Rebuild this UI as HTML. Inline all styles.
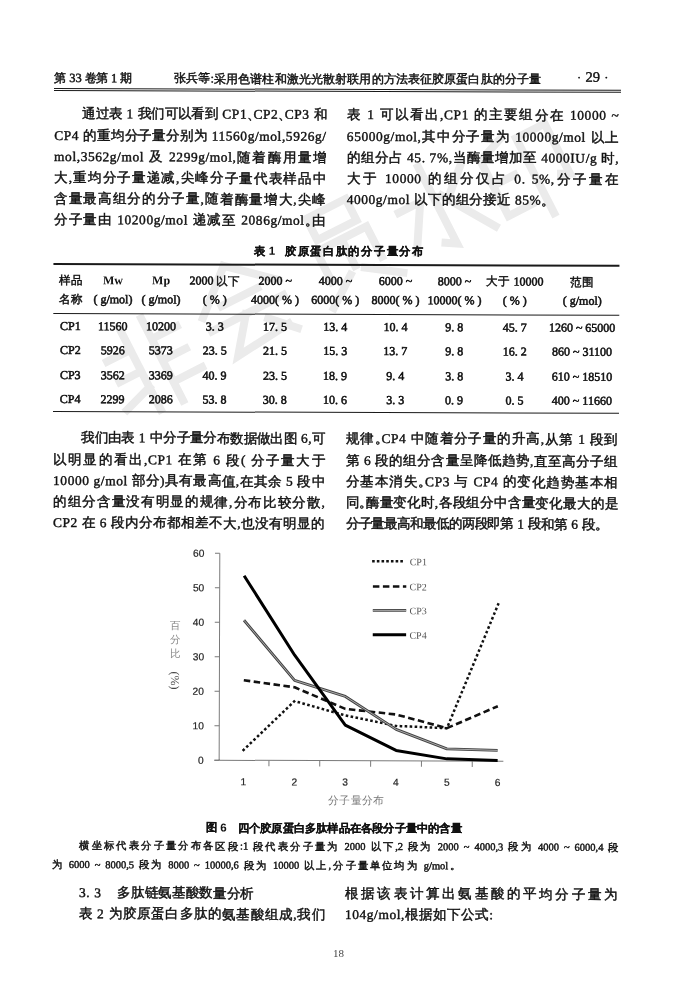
<!DOCTYPE html>
<html><head><meta charset="utf-8"><title>page</title><style>
html,body{margin:0;padding:0;background:#fff;width:677px;height:996px;overflow:hidden}
#all{position:absolute;left:0;top:0;width:677px;height:996px;filter:blur(0.35px)}
#pg{position:absolute;left:0;top:0;width:677px;height:996px;transform-origin:54px 88px;transform:rotate(0.18deg)}
#ch{position:absolute;left:0;top:0;width:677px;height:996px;transform-origin:360px 680px;transform:rotate(0.18deg)}
.b,.h,.tb,.n,.cap{position:absolute;white-space:nowrap;color:#111;text-align:justify;text-align-last:justify}
.l{text-align-last:left}
.b{font:13.4px/21px "Liberation Serif",serif;letter-spacing:0.6px}
.h{font:12.5px/16px "Liberation Serif",serif}
.tb{font:12px/16px "Liberation Serif",serif}
.n{font:10.5px/16px "Liberation Serif",serif}
.cap{font:bold 11.5px/16px "Liberation Sans",sans-serif}
c{font-family:"Liberation Sans",sans-serif;line-height:0;font-weight:normal;letter-spacing:var(--ls,1px);position:relative;top:1.3px;-webkit-text-stroke-width:1.3px}
.cap c{-webkit-text-stroke-width:2px}
html.cjk .cap c{-webkit-text-stroke-width:0.2px}
.b,.h,.tb,.n{-webkit-text-stroke-width:0.42px}
.tb{-webkit-text-stroke-width:0.55px}
.bm{-webkit-text-stroke-width:0}
html.cjk c{top:0;letter-spacing:var(--lsc,0px);font-family:"Liberation Serif",serif;-webkit-text-stroke-width:0.45px}
html.cjk .yt c,html.cjk .xt c{-webkit-text-stroke-width:0}
html.cjk .cap c{font-family:"Liberation Sans",sans-serif}
.b c{font-size:16.5px}
.h c{font-size:14.6px}
.tb c{font-size:14px}
.n c{font-size:12.6px}
.cap c{font-size:14px;font-weight:bold}
.bm{font-weight:bold}
c.p{font-size:9px!important;-webkit-text-stroke-width:0.8px}
html.cjk c.p{font-size:inherit!important;letter-spacing:-0.5em;-webkit-text-stroke-width:0.45px}
.rule{position:absolute;background:#1a1a1a}
.ch,.wm{position:absolute;left:0;top:0;display:block}
.ax{font:10.2px "Liberation Sans",sans-serif;fill:#222;stroke:#222;stroke-width:0.2px}
.lg{font:10px "Liberation Serif",serif;fill:#555}
.yt{position:absolute;font:10.5px/14px "Liberation Serif";color:#888;text-align:center;width:14px}
.yt c{font-size:13.5px;-webkit-text-stroke-width:0.3px;letter-spacing:0}
.ytp{position:absolute;font:12px "Liberation Serif";color:#444;transform:rotate(90deg);transform-origin:9px 7px;white-space:nowrap}
.xt{position:absolute;font:10.8px/14px "Liberation Serif";color:#777;width:56px;text-align:justify;text-align-last:justify;white-space:nowrap}
.xt c{font-size:13px;-webkit-text-stroke-width:0.3px}
#pn{position:absolute;left:333px;top:946.2px;font:11px/14px "Liberation Serif";color:#444}
html.cjk .b c{font-size:13.5px}
html.cjk .h c{font-size:12px}
html.cjk .tb c{font-size:11.5px}
html.cjk .n c{font-size:10.3px}
html.cjk .cap c{font-size:11.3px}
html.cjk .yt c{font-size:10.5px}
html.cjk .xt c{font-size:10.8px}
</style></head>
<body>
<script>(function(){var s=document.createElement('c');s.textContent='\u4e2d\u4e2d\u4e2d\u4e2d\u4e2d\u4e2d\u4e2d\u4e2d\u4e2d\u4e2d';s.style.cssText='position:absolute;visibility:hidden;font-size:100px;line-height:normal;white-space:nowrap';document.body.appendChild(s);var w=s.getBoundingClientRect().width;document.body.removeChild(s);if(w>900)document.documentElement.className+=' cjk';})();</script>
<div id="all">
<svg class="wm" width="677" height="996" viewBox="0 0 677 996"><g fill="none" stroke="#ebebeb" stroke-width="8" stroke-linecap="square"><path transform="translate(151 364) rotate(-27) translate(-50 -50)" d="M38 8V95M12 28H38M14 52H38M8 80L38 70M62 5V97M62 28H90M62 52H88M62 76H94"/><path transform="translate(244 306) rotate(-27) translate(-50 -50)" d="M50 5L8 42M50 5L92 42M30 40H70M10 58H90M48 58L22 92L82 86M66 72L88 94"/><path transform="translate(346 248) rotate(-27) translate(-50 -50)" d="M28 6H72V30H28ZM22 40H78V74M22 40V74M50 48V70M42 76L12 98M58 76L90 98"/><path transform="translate(439 208) rotate(-27) translate(-50 -50)" d="M50 4V90L40 84M12 36H36L10 80M88 22L62 46M58 40L92 92"/><path transform="translate(527 173) rotate(-27) translate(-50 -50)" d="M40 8L14 18V80H40M14 46H38M56 14H88V70L80 66M56 14V98"/></g></svg>
<div id="pg">
<div class="h" style="left:54.4px;top:69.6px;width:77.5px;--ls:0.10px;--lsc:-0.40px"><c>第</c> 33 <c>卷第</c> 1 <c>期</c></div>
<div class="h" style="left:174.0px;top:69.6px;width:367.0px"><c>张兵等</c>:<c>采用色谱柱和激光光散射联用的方法表征胶原蛋白肽的分子量</c></div>
<div class="h" style="left:577.0px;top:67.1px;width:31.5px">· <span style="font-size:14.5px">29</span> ·</div>
<div class="rule" style="left:54px;top:87.9px;width:566.5px;height:1.3px"></div>
<div class="rule" style="left:54px;top:90.1px;width:566.5px;height:1.2px"></div>
<div class="b" style="left:82.3px;top:103.4px;width:244.5px;--ls:0.24px;--lsc:-0.56px"><c>通过表</c> 1 <c>我们可以看到</c> CP1<c class="p">、</c>CP2<c class="p">、</c>CP3 <c>和</c></div>
<div class="b" style="left:54.3px;top:124.5px;width:272.5px;--ls:0.49px;--lsc:-0.18px">CP4 <c>的重均分子量分别为</c> 11560g/mol,5926g/</div>
<div class="b" style="left:54.3px;top:145.7px;width:272.5px">mol,3562g/mol <c>及</c> 2299g/mol,<c>随着酶用量增</c></div>
<div class="b" style="left:54.3px;top:166.8px;width:272.5px"><c>大</c>,<c>重均分子量递减</c>,<c>尖峰分子量代表样品中</c></div>
<div class="b" style="left:54.3px;top:188.0px;width:272.5px"><c>含量最高组分的分子量</c>,<c>随着酶量增大</c>,<c>尖峰</c></div>
<div class="b" style="left:54.3px;top:209.1px;width:272.5px"><c>分子量由</c> 10200g/mol <c>递减至</c> 2086g/mol<c class="p">。</c><c>由</c></div>
<div class="b" style="left:347.0px;top:103.4px;width:272.5px"><c>表</c> 1 <c>可以看出</c>,CP1 <c>的主要组分在</c> 10000 ~</div>
<div class="b" style="left:347.0px;top:124.5px;width:272.5px">65000g/mol,<c>其中分子量为</c> 10000g/mol <c>以上</c></div>
<div class="b" style="left:347.0px;top:145.7px;width:272.5px"><c>的组分占</c> 45. 7%,<c>当酶量增加至</c> 4000IU/g <c>时</c>,</div>
<div class="b" style="left:347.0px;top:166.8px;width:272.5px"><c>大于</c> 10000 <c>的组分仅占</c> 0. 5%,<c>分子量在</c></div>
<div class="b" style="left:347.0px;top:188.0px;width:201.0px;--ls:0.34px;--lsc:-0.23px">4000g/mol <c>以下的组分接近</c> 85%<c class="p">。</c></div>
<div class="cap l" style="left:255.0px;top:242.2px;width:30.0px"><c>表</c> 1</div>
<div class="cap" style="left:285.5px;top:242.2px;width:138.0px"><c>胶原蛋白肽的分子量分布</c></div>
<div class="rule" style="left:53.6px;top:263.0px;width:566.5px;height:1.7px"></div>
<div class="rule" style="left:53.6px;top:312.6px;width:566.5px;height:1.0px"></div>
<div class="rule" style="left:53.6px;top:410.7px;width:566.5px;height:1.5px"></div>
<div class="tb" style="left:31.2px;top:271.6px;width:80.0px;text-align:center;text-align-last:center"><c>样品</c></div>
<div class="tb" style="left:73.6px;top:271.6px;width:80.0px;text-align:center;text-align-last:center"><span class="bm">Mw</span></div>
<div class="tb" style="left:121.7px;top:271.6px;width:80.0px;text-align:center;text-align-last:center"><span class="bm">Mp</span></div>
<div class="tb" style="left:175.5px;top:271.6px;width:80.0px;text-align:center;text-align-last:center">2000 <c>以下</c></div>
<div class="tb" style="left:235.8px;top:271.6px;width:80.0px;text-align:center;text-align-last:center">2000 ~</div>
<div class="tb" style="left:296.0px;top:271.6px;width:80.0px;text-align:center;text-align-last:center">4000 ~</div>
<div class="tb" style="left:356.2px;top:271.6px;width:80.0px;text-align:center;text-align-last:center">6000 ~</div>
<div class="tb" style="left:415.1px;top:271.6px;width:80.0px;text-align:center;text-align-last:center">8000 ~</div>
<div class="tb" style="left:475.5px;top:271.6px;width:80.0px;text-align:center;text-align-last:center"><c>大于</c> 10000</div>
<div class="tb" style="left:542.9px;top:271.6px;width:80.0px;text-align:center;text-align-last:center"><c>范围</c></div>
<div class="tb" style="left:31.2px;top:291.4px;width:80.0px;text-align:center;text-align-last:center"><c>名称</c></div>
<div class="tb" style="left:73.6px;top:291.4px;width:80.0px;text-align:center;text-align-last:center">( g/mol)</div>
<div class="tb" style="left:121.7px;top:291.4px;width:80.0px;text-align:center;text-align-last:center">( g/mol)</div>
<div class="tb" style="left:175.5px;top:291.4px;width:80.0px;text-align:center;text-align-last:center">( % )</div>
<div class="tb" style="left:235.8px;top:291.4px;width:80.0px;text-align:center;text-align-last:center">4000( % )</div>
<div class="tb" style="left:296.0px;top:291.4px;width:80.0px;text-align:center;text-align-last:center">6000( % )</div>
<div class="tb" style="left:356.2px;top:291.4px;width:80.0px;text-align:center;text-align-last:center">8000( % )</div>
<div class="tb" style="left:415.1px;top:291.4px;width:80.0px;text-align:center;text-align-last:center">10000( % )</div>
<div class="tb" style="left:475.5px;top:291.4px;width:80.0px;text-align:center;text-align-last:center">( % )</div>
<div class="tb" style="left:542.9px;top:291.4px;width:80.0px;text-align:center;text-align-last:center">( g/mol)</div>
<div class="tb" style="left:31.2px;top:317.9px;width:80.0px;text-align:center;text-align-last:center">CP1</div>
<div class="tb" style="left:73.6px;top:317.9px;width:80.0px;text-align:center;text-align-last:center">11560</div>
<div class="tb" style="left:121.7px;top:317.9px;width:80.0px;text-align:center;text-align-last:center">10200</div>
<div class="tb" style="left:175.5px;top:317.9px;width:80.0px;text-align:center;text-align-last:center">3. 3</div>
<div class="tb" style="left:235.8px;top:317.9px;width:80.0px;text-align:center;text-align-last:center">17. 5</div>
<div class="tb" style="left:296.0px;top:317.9px;width:80.0px;text-align:center;text-align-last:center">13. 4</div>
<div class="tb" style="left:356.2px;top:317.9px;width:80.0px;text-align:center;text-align-last:center">10. 4</div>
<div class="tb" style="left:415.1px;top:317.9px;width:80.0px;text-align:center;text-align-last:center">9. 8</div>
<div class="tb" style="left:475.5px;top:317.9px;width:80.0px;text-align:center;text-align-last:center">45. 7</div>
<div class="tb" style="left:542.9px;top:317.9px;width:80.0px;text-align:center;text-align-last:center">1260 ~ 65000</div>
<div class="tb" style="left:31.2px;top:342.4px;width:80.0px;text-align:center;text-align-last:center">CP2</div>
<div class="tb" style="left:73.6px;top:342.4px;width:80.0px;text-align:center;text-align-last:center">5926</div>
<div class="tb" style="left:121.7px;top:342.4px;width:80.0px;text-align:center;text-align-last:center">5373</div>
<div class="tb" style="left:175.5px;top:342.4px;width:80.0px;text-align:center;text-align-last:center">23. 5</div>
<div class="tb" style="left:235.8px;top:342.4px;width:80.0px;text-align:center;text-align-last:center">21. 5</div>
<div class="tb" style="left:296.0px;top:342.4px;width:80.0px;text-align:center;text-align-last:center">15. 3</div>
<div class="tb" style="left:356.2px;top:342.4px;width:80.0px;text-align:center;text-align-last:center">13. 7</div>
<div class="tb" style="left:415.1px;top:342.4px;width:80.0px;text-align:center;text-align-last:center">9. 8</div>
<div class="tb" style="left:475.5px;top:342.4px;width:80.0px;text-align:center;text-align-last:center">16. 2</div>
<div class="tb" style="left:542.9px;top:342.4px;width:80.0px;text-align:center;text-align-last:center">860 ~ 31100</div>
<div class="tb" style="left:31.2px;top:366.8px;width:80.0px;text-align:center;text-align-last:center">CP3</div>
<div class="tb" style="left:73.6px;top:366.8px;width:80.0px;text-align:center;text-align-last:center">3562</div>
<div class="tb" style="left:121.7px;top:366.8px;width:80.0px;text-align:center;text-align-last:center">3369</div>
<div class="tb" style="left:175.5px;top:366.8px;width:80.0px;text-align:center;text-align-last:center">40. 9</div>
<div class="tb" style="left:235.8px;top:366.8px;width:80.0px;text-align:center;text-align-last:center">23. 5</div>
<div class="tb" style="left:296.0px;top:366.8px;width:80.0px;text-align:center;text-align-last:center">18. 9</div>
<div class="tb" style="left:356.2px;top:366.8px;width:80.0px;text-align:center;text-align-last:center">9. 4</div>
<div class="tb" style="left:415.1px;top:366.8px;width:80.0px;text-align:center;text-align-last:center">3. 8</div>
<div class="tb" style="left:475.5px;top:366.8px;width:80.0px;text-align:center;text-align-last:center">3. 4</div>
<div class="tb" style="left:542.9px;top:366.8px;width:80.0px;text-align:center;text-align-last:center">610 ~ 18510</div>
<div class="tb" style="left:31.2px;top:391.3px;width:80.0px;text-align:center;text-align-last:center">CP4</div>
<div class="tb" style="left:73.6px;top:391.3px;width:80.0px;text-align:center;text-align-last:center">2299</div>
<div class="tb" style="left:121.7px;top:391.3px;width:80.0px;text-align:center;text-align-last:center">2086</div>
<div class="tb" style="left:175.5px;top:391.3px;width:80.0px;text-align:center;text-align-last:center">53. 8</div>
<div class="tb" style="left:235.8px;top:391.3px;width:80.0px;text-align:center;text-align-last:center">30. 8</div>
<div class="tb" style="left:296.0px;top:391.3px;width:80.0px;text-align:center;text-align-last:center">10. 6</div>
<div class="tb" style="left:356.2px;top:391.3px;width:80.0px;text-align:center;text-align-last:center">3. 3</div>
<div class="tb" style="left:415.1px;top:391.3px;width:80.0px;text-align:center;text-align-last:center">0. 9</div>
<div class="tb" style="left:475.5px;top:391.3px;width:80.0px;text-align:center;text-align-last:center">0. 5</div>
<div class="tb" style="left:542.9px;top:391.3px;width:80.0px;text-align:center;text-align-last:center">400 ~ 11660</div>
<div class="b" style="left:82.3px;top:427.4px;width:244.5px;--ls:0.43px;--lsc:-0.64px"><c>我们由表</c> 1 <c>中分子量分布数据做出图</c> 6,<c>可</c></div>
<div class="b" style="left:54.3px;top:448.5px;width:272.5px"><c>以明显的看出</c>,CP1 <c>在第</c> 6 <c>段</c>( <c>分子量大于</c></div>
<div class="b" style="left:54.3px;top:469.7px;width:272.5px">10000 g/mol <c>部分</c>)<c>具有最高值</c>,<c>在其余</c> 5 <c>段中</c></div>
<div class="b" style="left:54.3px;top:490.8px;width:272.5px"><c>的组分含量没有明显的规律</c>,<c>分布比较分散</c>,</div>
<div class="b" style="left:54.3px;top:512.0px;width:272.5px">CP2 <c>在</c> 6 <c>段内分布都相差不大</c>,<c>也没有明显的</c></div>
<div class="b" style="left:347.0px;top:427.4px;width:272.5px"><c>规律</c><c class="p">。</c>CP4 <c>中随着分子量的升高</c>,<c>从第</c> 1 <c>段到</c></div>
<div class="b" style="left:347.0px;top:448.5px;width:272.5px"><c>第</c> 6 <c>段的组分含量呈降低趋势</c>,<c>直至高分子组</c></div>
<div class="b" style="left:347.0px;top:469.7px;width:272.5px"><c>分基本消失</c><c class="p">。</c>CP3 <c>与</c> CP4 <c>的变化趋势基本相</c></div>
<div class="b" style="left:347.0px;top:490.8px;width:272.5px;--ls:0.76px;--lsc:-0.19px"><c>同</c><c class="p">。</c><c>酶量变化时</c>,<c>各段组分中含量变化最大的是</c></div>
<div class="b" style="left:347.0px;top:512.0px;width:256.0px;--ls:-0.13px;--lsc:-1.13px"><c>分子量最高和最低的两段即第</c> 1 <c>段和第</c> 6 <c>段</c><c class="p">。</c></div>
<div class="cap l" style="left:208.3px;top:819.0px;width:30.0px"><c>图</c> 6</div>
<div class="cap" style="left:240.0px;top:819.0px;width:224.0px;--ls:0.22px;--lsc:0.00px"><c>四个胶原蛋白多肽样品在各段分子量中的含量</c></div>
<div class="n" style="left:81.8px;top:838.1px;width:539.0px"><c>横坐标代表分子量分布各区段</c>:1 <c>段代表分子量为</c> 2000 <c>以下</c>,2 <c>段为</c> 2000 ~ 4000,3 <c>段为</c> 4000 ~ 6000,4 <c>段</c></div>
<div class="n" style="left:54.2px;top:856.9px;width:404.5px"><c>为</c> 6000 ~ 8000,5 <c>段为</c> 8000 ~ 10000,6 <c>段为</c> 10000 <c>以上</c>,<c>分子量单位均为</c> g/mol<c class="p">。</c></div>
<div class="b" style="left:81.5px;top:882.0px;width:175.0px;--ls:0.74px;--lsc:-0.36px">3. 3&nbsp;&nbsp;&nbsp;&nbsp;<c>多肽链氨基酸数量分析</c></div>
<div class="b" style="left:81.3px;top:903.3px;width:247.0px"><c>表</c> 2 <c>为胶原蛋白多肽的氨基酸组成</c>,<c>我们</c></div>
<div class="b" style="left:347.6px;top:882.0px;width:273.0px"><c>根据该表计算出氨基酸的平均分子量为</c></div>
<div class="b" style="left:347.5px;top:903.3px;width:148.6px;--ls:0.73px;--lsc:0.00px">104g/mol,<c>根据如下公式</c>:</div>
</div>
<div id="ch">
<svg class="ch" width="677" height="996" viewBox="0 0 677 996">
<path d="M219.4 553.7V760.7M214.6 760.7H503.6" stroke="#7a7a7a" stroke-width="1" fill="none"/>
<path d="M214.6 760.7H219.4M214.6 726.2H219.4M214.6 691.7H219.4M214.6 657.2H219.4M214.6 622.7H219.4M214.6 588.2H219.4M214.6 553.7H219.4M269.2 760.7V766.6M320.0 760.7V766.6M370.9 760.7V766.6M421.7 760.7V766.6M472.5 760.7V766.6" stroke="#7a7a7a" stroke-width="1" fill="none"/>
<text x="204" y="764.2" class="ax" text-anchor="end">0</text>
<text x="204" y="729.7" class="ax" text-anchor="end">10</text>
<text x="204" y="695.2" class="ax" text-anchor="end">20</text>
<text x="204" y="660.7" class="ax" text-anchor="end">30</text>
<text x="204" y="626.2" class="ax" text-anchor="end">40</text>
<text x="204" y="591.7" class="ax" text-anchor="end">50</text>
<text x="204" y="557.2" class="ax" text-anchor="end">60</text>
<text x="243.8" y="785.6" class="ax" text-anchor="middle">1</text>
<text x="294.6" y="785.6" class="ax" text-anchor="middle">2</text>
<text x="345.4" y="785.6" class="ax" text-anchor="middle">3</text>
<text x="396.3" y="785.6" class="ax" text-anchor="middle">4</text>
<text x="447.1" y="785.6" class="ax" text-anchor="middle">5</text>
<text x="497.9" y="785.6" class="ax" text-anchor="middle">6</text>
<polyline points="243.8,750.3 294.6,701.3 345.4,715.5 396.3,725.8 447.1,727.9 497.9,604.0" fill="none" stroke="#111" stroke-width="2.5" stroke-dasharray="0.1 4.9" stroke-linecap="square" stroke-linejoin="round"/>
<polyline points="243.8,680.6 294.6,687.5 345.4,708.9 396.3,714.4 447.1,727.9 497.9,705.8" fill="none" stroke="#111" stroke-width="2.6" stroke-dasharray="6.5 3.5" stroke-linejoin="round"/>
<polyline points="243.8,620.6 294.6,680.6 345.4,696.5 396.3,729.3 447.1,748.6 497.9,750.0" fill="none" stroke="#444" stroke-width="2.8" stroke-linejoin="round"/>
<polyline points="243.8,620.6 294.6,680.6 345.4,696.5 396.3,729.3 447.1,748.6 497.9,750.0" fill="none" stroke="#b8b8b8" stroke-width="0.9" stroke-linejoin="round"/>
<polyline points="243.8,576.1 294.6,655.4 345.4,725.1 396.3,750.3 447.1,758.6 497.9,760.0" fill="none" stroke="#000" stroke-width="3" stroke-linejoin="round"/>
<line x1="373" y1="561.2" x2="404" y2="561.2" stroke="#111" stroke-width="2.5" stroke-dasharray="0.1 4.6" stroke-linecap="square"/>
<line x1="372.6" y1="586.4" x2="406" y2="586.4" stroke="#111" stroke-width="2.6" stroke-dasharray="6.5 3.5"/>
<line x1="372.6" y1="610.3" x2="406" y2="610.3" stroke="#444" stroke-width="2.8"/>
<line x1="372.6" y1="610.3" x2="406" y2="610.3" stroke="#b8b8b8" stroke-width="0.9"/>
<line x1="372.6" y1="634.7" x2="406" y2="634.7" stroke="#000" stroke-width="3"/>
<text x="409.3" y="565.0" class="lg">CP1</text>
<text x="409.3" y="590.2" class="lg">CP2</text>
<text x="409.3" y="614.1" class="lg">CP3</text>
<text x="409.3" y="638.5" class="lg">CP4</text>
</svg>
<div class="yt" style="left:168px;top:620.3px"><c>百</c><br><c>分</c><br><c>比</c></div><div class="ytp" style="left:166px;top:674px">(%)</div><div class="xt" style="left:328.5px;top:793px"><c>分子量分布</c></div>
</div>
<div id="pn">18</div>
</div>
</body></html>
